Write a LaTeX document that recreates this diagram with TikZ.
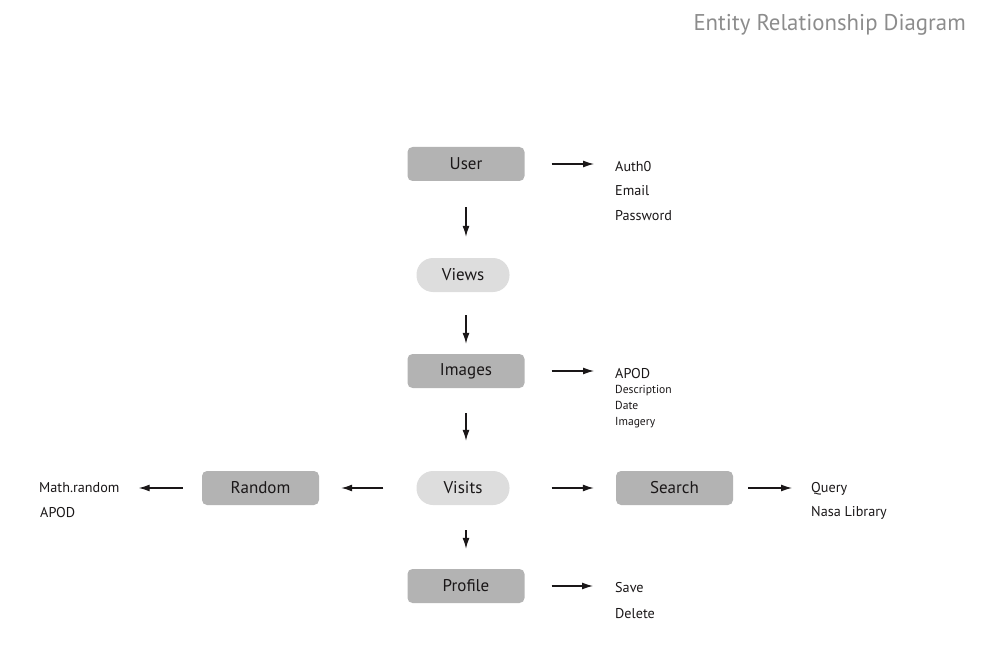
\documentclass[tikz,border=0pt]{standalone}
\usepackage{fontspec}
\setmainfont{PT Sans}
\usetikzlibrary{arrows.meta}
\definecolor{boxgray}{HTML}{B3B3B3}
\definecolor{pillgray}{HTML}{DDDDDD}
\definecolor{titlegray}{HTML}{8C8C8C}
\definecolor{inkdark}{HTML}{1A1718}
\begin{document}
\begin{tikzpicture}[x=1pt, y=-1pt,
    entity/.style={fill=boxgray, rounded corners=5pt, minimum width=117pt, minimum height=34pt,
        inner sep=0pt, text=inkdark, font=\fontsize{17}{17}\selectfont},
    relation/.style={entity, fill=pillgray, rounded corners=16.5pt, minimum width=93pt},
    attr/.style={anchor=base west, inner sep=0pt, text=inkdark, font=\fontsize{14.2}{14.2}\selectfont},
    attrsmall/.style={attr, font=\fontsize{11.6}{11.6}\selectfont},
    link/.style={-{Latex[length=11pt,width=7pt]}, line width=1.2pt, inkdark}]
    \useasboundingbox (0,0) rectangle (986,650);
    \node[anchor=base east, inner sep=0pt, text=titlegray, font=\fontsize{22.8}{22.8}\selectfont] (title) at (966,31) {Entity Relationship Diagram};

    % main column
    \node[entity] (user) at (466,164) {User};
    \node[relation] (views) at (463,275) {Views};
    \node[entity] (images) at (466,371) {Images};
    \node[relation] (visits) at (463,488) {Visits};
    \node[entity] (random) at (260.5,488) {Random};
    \node[entity] (search) at (674.5,488) {Search};
    \node[entity] (profile) at (466,586) {Profile};

    % attributes
    \node[attr] (auth) at (615,172) {Auth0};
    \node[attr] (email) at (615,196) {Email};
    \node[attr] (password) at (615,220) {Password};
    \node[attr] (apod) at (615,378) {APOD};
    \node[attrsmall] (descr) at (615,393) {Description};
    \node[attrsmall] (date) at (615,409) {Date};
    \node[attrsmall] (imagery) at (615,425) {Imagery};
    \node[attr] (math) at (39,492) {Math.random};
    \node[attr] (apodrand) at (40,517) {APOD};
    \node[attr] (query) at (811,492) {Query};
    \node[attr] (nasa) at (811,516) {Nasa Library};
    \node[attr] (save) at (615,592) {Save};
    \node[attr] (delete) at (615,618) {Delete};

    % connectors
    \draw[link, shorten <=27pt, shorten >=21pt] (user.east) -- (user.east -| auth.west);
    \draw[link, shorten <=26pt, shorten >=21pt] (user.south) -- (user.south |- views.north);
    \draw[link, shorten <=23pt, shorten >=10pt] (images.north |- views.south) -- (images.north);
    \draw[link, shorten <=27pt, shorten >=21pt] (images.east) -- (images.east -| apod.west);
    \draw[link, shorten <=25pt, shorten >=30pt] (images.south) -- (images.south |- visits.north);
    \draw[link, shorten <=33pt, shorten >=22pt] (visits.west) -- (random.east);
    \draw[link, shorten <=19pt, shorten >=19pt] (random.west) -- (random.west -| math.east);
    \draw[link, shorten <=42pt, shorten >=22pt] (visits.east) -- (search.west);
    \draw[link, shorten <=15pt, shorten >=19pt] (search.east) -- (search.east -| query.west);
    \draw[link, shorten <=25pt, shorten >=20pt] (profile.north |- visits.south) -- (profile.north);
    \draw[link, shorten <=27pt, shorten >=22pt] (profile.east) -- (profile.east -| save.west);
\end{tikzpicture}
\end{document}
